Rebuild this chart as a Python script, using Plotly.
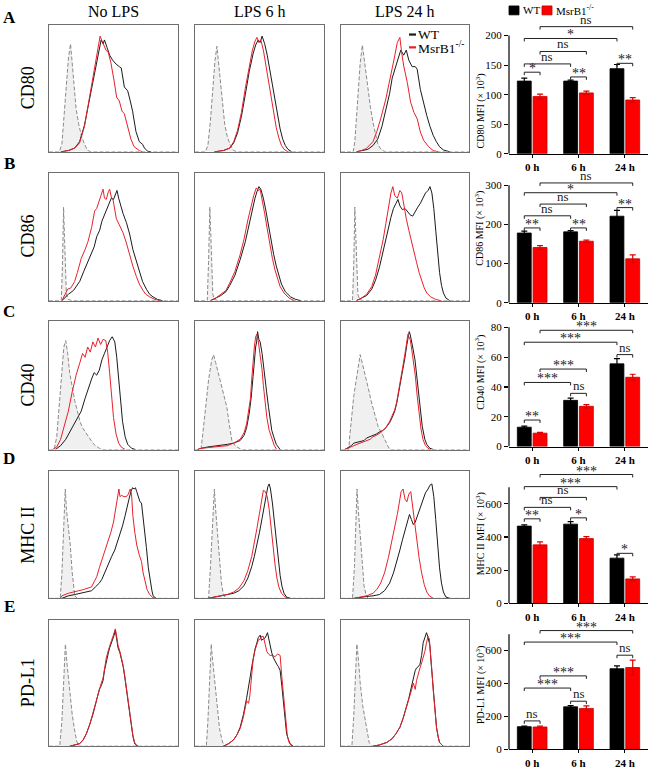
import plotly.graph_objects as go

W, H = 650, 769
FONT = "Liberation Serif, DejaVu Serif, serif"


def px(x):
    return x / W


def py(y):
    return 1 - y / H


# ---------------- data ----------------
marker_names = ["CD80", "CD86", "CD40", "MHC II", "PD-L1"]
panel_letters = ["A", "B", "C", "D", "E"]
conditions = ["No LPS", "LPS 6 h", "LPS 24 h"]
time_points = ["0 h", "6 h", "24 h"]
wt_name = "WT"
ko_name = "MsrB1<sup>-/-</sup>"

# MFI (x 10^3): mean and SEM per time point (0 h, 6 h, 24 h)
cd80_wt = [123, 123, 144]
cd80_wt_err = [5, 1.5, 7]
cd80_ko = [97, 103, 91]
cd80_ko_err = [4, 3, 4]

cd86_wt = [178, 181, 221]
cd86_wt_err = [5, 3, 15]
cd86_ko = [141, 157, 112]
cd86_ko_err = [5, 3, 10]

cd40_wt = [13, 31, 55.5]
cd40_wt_err = [0.7, 1.5, 3.5]
cd40_ko = [9, 27, 46.5]
cd40_ko_err = [0.5, 1.2, 2]

mhc2_wt = [465, 477, 272]
mhc2_wt_err = [8, 15, 20]
mhc2_ko = [352, 390, 147]
mhc2_ko_err = [18, 12, 12]

pdl1_wt = [137, 258, 490]
pdl1_wt_err = [4, 7, 17]
pdl1_ko = [135, 248, 497]
pdl1_ko_err = [5, 15, 45]

# significance brackets: (group from, time from, group to, time to, level, label)
cd80_sig = [("KO", 0, "KO", 2, 215, "ns"), ("WT", 0, "WT", 2, 195, "*"),
            ("KO", 0, "KO", 1, 173, "ns"), ("WT", 0, "WT", 1, 152, "ns"),
            ("WT", 0, "KO", 0, 138, "*"), ("WT", 1, "KO", 1, 130, "**"),
            ("WT", 2, "KO", 2, 153, "**")]
cd86_sig = [("KO", 0, "KO", 2, 306, "ns"), ("WT", 0, "WT", 2, 281, "*"),
            ("KO", 0, "KO", 1, 252, "ns"), ("WT", 0, "WT", 1, 222, "ns"),
            ("WT", 0, "KO", 0, 191, "**"), ("WT", 1, "KO", 1, 191, "**"),
            ("WT", 2, "KO", 2, 243, "**")]
cd40_sig = [("KO", 0, "KO", 2, 78, "***"), ("WT", 0, "WT", 2, 70, "***"),
            ("KO", 0, "KO", 1, 52, "***"), ("WT", 0, "WT", 1, 43, "***"),
            ("WT", 1, "KO", 1, 35.7, "ns"), ("WT", 2, "KO", 2, 61.7, "ns"),
            ("WT", 0, "KO", 0, 17.8, "**")]
mhc2_sig = [("KO", 0, "KO", 2, 776, "***"), ("WT", 0, "WT", 2, 703, "***"),
            ("KO", 0, "KO", 1, 638, "ns"), ("WT", 0, "WT", 1, 578, "ns"),
            ("WT", 0, "KO", 0, 509, "**"), ("WT", 1, "KO", 1, 515, "*"),
            ("WT", 2, "KO", 2, 301, "*")]
pdl1_sig = [("KO", 0, "KO", 2, 722, "***"), ("WT", 0, "WT", 2, 652, "***"),
            ("KO", 0, "KO", 1, 446, "***"), ("WT", 0, "WT", 1, 372, "***"),
            ("WT", 0, "KO", 0, 172, "ns"), ("WT", 1, "KO", 1, 292, "ns"),
            ("WT", 2, "KO", 2, 572, "ns")]

bar_tickvals = [[0, 50, 100, 150, 200], [0, 100, 200, 300], [0, 20, 40, 60, 80],
                [0, 200, 400, 600], [0, 200, 400, 600]]
bar_axis_top = [200, 300, 80, 700, 700]

# Flow histograms: (fluorescence, % of mode)
CD80_noLPS_iso = [(0, 0), (8, 0), (10, 6), (11.5, 25), (13.4, 52), (15, 73), (16.7, 85), (18, 68), (19.5, 50), (21, 34), (23, 22), (25, 13), (27.5, 6), (30, 1), (33, 0), (100, 0)]
CD80_noLPS_wt = [(9, 0), (15, 1), (20, 3), (23.7, 8), (27.5, 21), (30, 34), (34, 55), (36.5, 69), (37.8, 73), (40.4, 88), (42, 85), (43, 88), (45, 82), (47, 76), (49.4, 72), (52, 69), (54.5, 67), (56, 66), (58.4, 51), (61, 48), (63, 40), (64.8, 32), (67.4, 16), (70, 8), (72.5, 6), (74, 3), (76.4, 0.5), (79, 0)]
CD80_noLPS_ko = [(9.5, 0), (15, 1), (20, 3), (23.7, 7), (27.5, 20), (30, 35), (34, 57), (37.8, 82), (39.6, 91), (41.6, 86), (44.2, 80), (46, 78), (48, 70), (50.6, 55), (52.4, 43), (54.5, 40), (56.6, 32), (58.4, 30), (61, 20), (63.5, 10), (66, 4), (70, 1), (72.5, 0)]

CD80_6h_iso = [(0, 0), (8, 0), (10, 5), (12, 25), (14, 52), (15.5, 72), (17, 83), (18.5, 68), (20, 50), (21.5, 34), (23, 22), (25, 12), (27.5, 5), (30, 1), (33, 0), (100, 0)]
CD80_6h_wt = [(15, 0), (22, 1), (27, 3), (30, 7), (33, 15), (36, 28), (39, 45), (42, 63), (45, 77), (47, 84), (49, 88), (50.5, 86), (52, 91), (54, 85), (56, 76), (58, 64), (60, 52), (62, 40), (64, 28), (66, 18), (68, 10), (70, 5), (72, 2), (75, 0)]
CD80_6h_ko = [(15, 0), (22, 1), (27, 3), (30, 8), (33, 17), (36, 31), (39, 50), (42, 68), (44.5, 80), (46.5, 87), (48, 90), (49.5, 86), (51, 88), (53, 80), (55, 68), (57, 55), (59, 42), (61, 30), (63, 19), (65, 11), (67, 5), (69, 2), (72, 0)]

CD80_24h_iso = [(0, 0), (9.5, 0), (10.8, 8), (12, 28), (13.3, 49), (15, 70), (16.7, 84), (18.5, 70), (21, 49), (23, 35), (25, 23), (27, 13), (28.7, 6.5), (30.5, 3), (32.6, 1), (35, 0), (100, 0)]
CD80_24h_wt = [(12, 0), (17, 1), (21, 2), (25, 5), (28.7, 10), (32, 20), (35, 33), (38, 46), (40, 58), (43, 68), (45.6, 78), (46.7, 80), (49, 76), (51, 80), (53, 72), (55.6, 67), (58, 67), (59.5, 65), (62, 49), (64.5, 38), (67, 28.6), (69.5, 20), (72, 13), (74.5, 8), (77, 4), (80, 1.5), (82.5, 0.5), (85, 0)]
CD80_24h_ko = [(12, 0), (16, 1), (19.7, 2.6), (25, 8), (28, 16), (31, 26), (35, 41.5), (39, 60), (41.5, 73), (44, 86), (46, 90), (47.4, 78), (49, 67.5), (51.8, 54.5), (54.4, 39), (57, 31), (59.5, 26), (62, 15.6), (64.6, 9), (68.5, 4), (72, 1), (76, 0)]

CD86_noLPS_iso = [(0, 0), (9.5, 0), (10.5, 30), (11.3, 73), (12, 50), (12.8, 20), (13.5, 5), (15, 1), (18, 0), (100, 0)]
CD86_noLPS_wt = [(10, 0), (12, 2), (15, 5), (19, 8), (23.8, 15), (27, 23), (31.5, 33), (35, 42), (37, 50), (39.3, 55), (41, 62), (44.4, 70), (46, 75), (48.3, 80), (50, 79), (52.7, 86), (54, 80), (56, 72), (57.4, 68), (60, 61), (62.5, 52), (65, 40), (67.5, 31), (70, 22), (72.5, 15), (75.5, 9), (78, 5), (80.6, 3), (84, 1), (88, 0)]
CD86_noLPS_ko = [(10, 0), (11, 2), (12.5, 6), (14.5, 9), (17, 10), (19.9, 15), (22, 22), (25, 33), (28, 40), (30.2, 46), (33, 57), (35.4, 70), (37, 72), (39.3, 79), (41.9, 87), (43, 80), (44.4, 79), (46, 85), (47, 87), (48.5, 80), (49.6, 79), (52.2, 64), (55, 58), (57.4, 53), (60, 45), (62.5, 35), (65, 27), (67.7, 19), (70, 13), (72.9, 8), (75, 5), (78, 3), (82, 1), (86, 0)]

CD86_6h_iso = [(0, 0), (9.5, 0), (10.5, 30), (11.5, 73), (12.3, 50), (13, 20), (13.8, 5), (15, 1), (18, 0), (100, 0)]
CD86_6h_wt = [(12, 0), (16, 2), (20, 4), (24, 7), (27, 12), (31, 20), (35, 32), (39, 46), (42, 60), (44, 70), (46.5, 80), (48, 85), (49.5, 89), (51, 87), (53, 80), (55, 70), (57, 58), (59, 47), (61, 36), (63, 27), (65, 19), (67, 13), (70, 7), (74, 3), (78, 1), (82, 0)]
CD86_6h_ko = [(12, 0), (16, 2), (20, 5), (24, 8), (27, 14), (31, 23), (35, 36), (38, 48), (41, 63), (43, 72), (45.5, 82), (47.5, 88), (49, 86), (50.5, 87), (52, 80), (54, 68), (56, 56), (58, 44), (60, 33), (62, 24), (64, 17), (66, 11), (69, 6), (73, 2), (77, 0)]

CD86_24h_iso = [(0, 0), (9, 0), (10, 30), (10.8, 73), (11.6, 50), (12.4, 20), (13.2, 5), (14.5, 1), (17, 0), (100, 0)]
CD86_24h_wt = [(12, 0), (16, 2), (20, 4), (24, 9), (27, 16), (30, 26), (33, 38), (36, 52), (39, 65), (41, 72), (43, 76), (44.5, 79), (46, 74), (48, 71), (50, 72), (52, 69), (54, 67), (56, 66), (58, 70), (60, 73), (62, 76), (64, 80), (66, 84), (68, 86), (69.5, 89), (71, 84), (72.5, 72), (74, 55), (75.5, 38), (77, 22), (78.5, 12), (80, 6), (82, 2), (85, 0)]
CD86_24h_ko = [(12, 0), (16, 2), (20, 5), (24, 11), (27, 20), (30, 33), (33, 48), (35, 60), (37, 72), (39, 84), (40.5, 89), (42, 82), (44, 80), (46, 86), (47.5, 84), (49, 75), (51, 64), (53, 55), (55, 46), (57, 38), (59, 30), (61, 22), (63, 15), (65, 10), (67, 6), (70, 3), (74, 1), (78, 0)]

CD40_noLPS_iso = [(0, 0), (4, 0), (6, 10), (8, 35), (10, 65), (11.5, 80), (13, 85), (14.5, 75), (16, 60), (18, 48), (20, 38), (22, 30), (24, 22), (26, 17), (28, 14), (30, 10), (32, 8), (34, 5), (36, 3), (39, 1), (42, 0), (100, 0)]
CD40_noLPS_wt = [(5, 0), (9, 3), (13, 8), (17, 15), (21, 22), (25, 30), (28, 40), (31, 50), (33, 55), (35, 60), (37, 58), (39, 62), (41, 70), (43, 75), (45, 80), (47, 85), (49, 88), (51, 84), (52.5, 72), (54, 55), (55.5, 38), (57, 22), (59, 10), (61, 4), (64, 1), (67, 0)]
CD40_noLPS_ko = [(3, 0), (6, 2), (9, 8), (12, 18), (15, 30), (18, 45), (21, 58), (24, 68), (26, 75), (28, 72), (30, 80), (32, 76), (34, 84), (36, 80), (38, 87), (40, 82), (42, 86), (44, 85), (45.5, 76), (47, 60), (48.5, 40), (50, 25), (52, 12), (54, 5), (56, 2), (59, 0)]

CD40_6h_iso = [(0, 0), (4.6, 0), (6, 12), (8, 33), (10.6, 55), (13, 70), (14.4, 74), (16, 68), (18, 60), (19.6, 54), (22, 43), (24.7, 33), (26.5, 20), (28.6, 7), (31, 3), (33, 2), (36, 0), (100, 0)]
CD40_6h_wt = [(2, 0), (5, 1), (10, 2), (15, 2.5), (20, 3), (25, 4), (30, 5), (35, 7), (38, 11), (40, 17), (42, 28), (43.5, 40), (45, 57), (46, 70), (47, 80), (47.8, 84), (48.5, 92), (49.5, 86), (50.5, 84), (52, 75), (54, 60), (55.5, 45), (57, 33), (58, 25), (59.5, 15), (61, 10), (63, 4), (66, 0)]
CD40_6h_ko = [(2, 0), (5, 1), (10, 1.5), (15, 2), (20, 3), (25, 3), (30, 5), (35, 8), (38, 13), (40, 20), (41.5, 30), (43, 40), (44, 55), (45, 70), (46, 80), (47, 88), (48, 90), (49, 85), (50.5, 75), (52, 62), (53, 50), (54.5, 35), (55.7, 25), (57.5, 15), (59.5, 8), (61.5, 3), (63.4, 0)]

CD40_24h_iso = [(0, 0), (6, 0), (7, 12), (8.5, 30), (10, 42), (12, 55), (13.5, 66), (15, 74), (16.5, 68), (18, 62), (20, 55), (22, 45), (23.5, 38), (25, 32), (27, 25), (29, 18), (30.6, 15), (33, 10), (35.8, 5), (38, 0), (100, 0)]
CD40_24h_wt = [(3, 0), (5, 1), (8, 3), (10, 5), (12.4, 5.5), (15, 6), (18, 7), (20, 9), (22.8, 10), (25, 11), (27.5, 12), (30.6, 14), (33, 15), (35, 17), (38, 21), (40, 25), (42, 30), (43.5, 36), (45, 44), (46.5, 52), (47.4, 57), (48.5, 64), (50, 72), (51.5, 82), (52.6, 88), (53.3, 92), (54, 90), (55, 86), (56, 80), (57.8, 70), (59, 58), (60.4, 45), (62, 30), (63.5, 18), (65.5, 8), (67, 4), (69.4, 1), (72, 0)]
CD40_24h_ko = [(3, 0), (5, 1), (8, 2), (10, 3), (12.4, 4), (15, 5), (18, 6), (20, 7), (22.8, 8), (25, 10), (27.5, 11), (30.6, 13), (33, 15), (35, 17), (38, 22), (40, 26), (42, 31), (43.5, 37), (45, 45), (46.5, 54), (47.4, 58), (48.5, 66), (50, 75), (51.5, 85), (52.3, 90), (53, 88), (54, 86), (55, 80), (56.5, 70), (58, 58), (59.5, 42), (61, 28), (62.5, 16), (64, 8), (66, 3), (68, 1), (70, 0)]

MHC2_noLPS_iso = [(0, 0), (8.7, 0), (10, 20), (11, 50), (12.6, 86), (13.5, 70), (15, 55), (16.5, 42), (18, 20), (19, 8), (20, 2), (22, 0), (100, 0)]
MHC2_noLPS_wt = [(10, 0), (15, 2), (20, 3), (25, 4), (30, 5), (33, 6), (36, 9), (39, 12), (41, 15), (44, 22), (46, 28), (48.6, 33), (51, 38), (53, 44), (55, 50), (57, 57), (59, 65), (60, 70), (62, 78), (63.5, 84), (64.8, 87), (66, 86), (67, 87), (68, 84), (69, 80), (70.5, 76), (71.7, 75), (73, 64), (74.3, 52), (75.5, 40), (77, 24), (78.5, 12), (79.8, 6), (80.7, 2), (83, 0)]
MHC2_noLPS_ko = [(8.7, 0), (10, 2), (15, 4), (20, 5), (23, 6), (27, 7), (30, 8), (33, 9), (35, 13), (37, 17), (39, 24), (40.9, 30), (43, 37), (46, 45), (48, 52), (50, 60), (51.2, 68), (52.4, 75), (53.5, 82), (54.2, 86), (55, 80), (56.3, 81), (58, 80), (60, 80), (61.5, 82), (63, 86), (64, 82), (65, 65), (66.5, 52), (68, 42), (70, 34), (71.7, 29), (73, 20), (74.3, 13), (76, 7), (78, 3), (80.7, 0.5), (83, 0)]

MHC2_6h_iso = [(0, 0), (10.5, 0), (12, 25), (13.5, 60), (15, 86), (16, 70), (17.5, 50), (19, 30), (20.5, 12), (22, 3), (24, 0), (100, 0)]
MHC2_6h_wt = [(10, 0), (15, 1), (20, 2), (25, 3), (30, 4), (34, 6), (38, 10), (41, 16), (44, 25), (46, 33), (48, 42), (50, 52), (52, 63), (54, 74), (55.5, 83), (56.5, 88), (57.5, 90), (58.5, 86), (60, 75), (61.5, 60), (63, 44), (64.5, 30), (66, 18), (67.5, 9), (69, 4), (71, 1), (74, 0)]
MHC2_6h_ko = [(10, 0), (15, 1), (20, 2), (25, 3), (30, 5), (34, 8), (38, 14), (41, 22), (44, 33), (46, 43), (48, 55), (50, 67), (51.5, 77), (53, 85), (54.5, 84), (56, 80), (57.5, 70), (59, 55), (60.5, 40), (62, 27), (63.5, 16), (65, 9), (67, 4), (70, 1), (73, 0)]

MHC2_24h_iso = [(0, 0), (9, 0), (10.5, 25), (11.5, 60), (12.5, 86), (13.5, 70), (15, 48), (16.5, 28), (18, 10), (19.5, 3), (21, 0), (100, 0)]
MHC2_24h_wt = [(10, 0), (15, 1), (20, 1.5), (25, 2), (30, 3), (34, 6), (38, 12), (41, 20), (44, 30), (46, 38), (48, 46), (50, 54), (52, 62), (53.5, 66), (55, 62), (56.5, 58), (58, 60), (60, 66), (62, 72), (64, 78), (66, 83), (68, 86), (69.5, 89), (71, 90), (72.5, 80), (74, 62), (75.5, 42), (77, 24), (78.5, 12), (80, 5), (82, 1), (85, 0)]
MHC2_24h_ko = [(10, 0), (15, 1), (20, 2), (25, 4), (28, 7), (31, 12), (34, 20), (37, 32), (40, 46), (42, 56), (44, 66), (45.5, 75), (47, 84), (48.5, 86), (50, 78), (51.5, 76), (53, 82), (54.5, 84), (56, 72), (57.5, 58), (59, 45), (61, 32), (63, 20), (65, 11), (67, 5), (69, 2), (72, 0)]

PDL1_noLPS_iso = [(0, 0), (8.3, 0), (10, 20), (11.5, 55), (12.7, 81), (14, 65), (16, 45), (18, 25), (20, 12), (21.5, 4), (23, 0), (100, 0)]
PDL1_noLPS_wt = [(16, 0), (20, 1), (23.8, 2), (26.5, 5), (29, 10), (31.5, 17), (34, 25), (36.5, 35), (39, 45), (40.5, 48), (41.9, 52), (43, 60), (44.4, 68), (46, 74), (47, 78), (48.5, 82), (49.6, 85), (50.5, 88), (51.4, 92), (52.3, 86), (53.5, 78), (55, 74), (56, 70), (57.5, 63), (58.7, 55), (60, 45), (61.2, 35), (62.5, 25), (63.8, 15), (65, 8), (66.4, 2), (69, 0)]
PDL1_noLPS_ko = [(16, 0), (20, 1), (23.8, 2), (26.5, 5), (29, 10), (31.5, 17), (34, 26), (36.5, 36), (39, 46), (40.5, 50), (41.9, 54), (43, 62), (44.4, 70), (46, 76), (47, 80), (48.5, 84), (49.6, 87), (50.5, 90), (51.4, 93), (52.3, 88), (53.5, 80), (55, 75), (56, 71), (57.5, 64), (58.7, 56), (60, 46), (61.2, 36), (62.5, 26), (63.8, 16), (65, 9), (66.4, 3), (68, 0)]

PDL1_6h_iso = [(0, 0), (8.8, 0), (10, 20), (10.8, 40), (12, 70), (12.6, 81), (13.5, 70), (14.7, 58), (16, 42), (17, 30), (19, 14), (20.9, 5), (22.5, 0), (100, 0)]
PDL1_6h_wt = [(22, 0), (26, 2), (29.9, 5), (32.5, 9), (35, 15), (37.5, 25), (40, 38), (41.5, 46), (42.8, 55), (44, 63), (45, 70), (46.5, 77), (48, 82), (49, 86), (50.5, 88), (51.5, 84), (53, 85), (54.5, 86), (56.2, 90), (57.2, 85), (58.2, 80), (59.5, 74), (60.8, 70), (62, 67), (63.4, 65), (64.7, 63), (66, 60), (67.3, 48), (68.6, 35), (70, 20), (71, 10), (72.5, 5), (73.7, 2), (76, 0)]
PDL1_6h_ko = [(22, 0), (26, 2), (29.9, 5), (32.5, 9), (35, 14), (37.5, 23), (40, 36), (41.5, 34), (42.5, 40), (44, 60), (45, 68), (46.5, 76), (48, 80), (49, 84), (50.5, 85), (51.5, 87), (53, 87), (54.5, 80), (55.7, 75), (57, 73), (58.2, 72), (60, 72), (62, 71), (64, 73), (66, 72), (67.3, 55), (68.6, 40), (70, 22), (71.6, 8), (73, 3), (75, 0)]

PDL1_24h_iso = [(0, 0), (8.5, 0), (10, 25), (11.5, 60), (12.4, 81), (13.5, 70), (15, 50), (17, 32), (19, 20), (20.5, 10), (22, 3), (24, 0), (100, 0)]
PDL1_24h_wt = [(25, 0), (30, 1), (35.8, 3), (40, 6), (43, 10), (46, 15), (48.5, 22), (51, 30), (53, 38), (55, 47), (56.5, 55), (58, 60), (59, 62), (60.3, 63), (61.7, 65), (63, 72), (64.2, 82), (65.5, 87), (66.8, 90), (67.8, 87), (68.6, 84), (69.4, 80), (70.5, 65), (72, 45), (73.3, 28), (74.6, 15), (76, 7), (77, 3), (79.8, 0)]
PDL1_24h_ko = [(25, 0), (30, 1), (35.8, 3), (40, 6), (43, 10), (46, 15), (48.5, 22), (51, 30), (53, 37), (55, 44), (56.5, 50), (58, 45), (59, 52), (60.3, 58), (61.7, 62), (63, 66), (64.2, 70), (65.5, 75), (66.8, 82), (68, 87), (69, 85), (70, 75), (71, 60), (72, 45), (73.3, 28), (74.6, 15), (76, 7), (77, 3), (79.8, 0)]

hist_panels = [
    [(CD80_noLPS_iso, CD80_noLPS_wt, CD80_noLPS_ko), (CD80_6h_iso, CD80_6h_wt, CD80_6h_ko), (CD80_24h_iso, CD80_24h_wt, CD80_24h_ko)],
    [(CD86_noLPS_iso, CD86_noLPS_wt, CD86_noLPS_ko), (CD86_6h_iso, CD86_6h_wt, CD86_6h_ko), (CD86_24h_iso, CD86_24h_wt, CD86_24h_ko)],
    [(CD40_noLPS_iso, CD40_noLPS_wt, CD40_noLPS_ko), (CD40_6h_iso, CD40_6h_wt, CD40_6h_ko), (CD40_24h_iso, CD40_24h_wt, CD40_24h_ko)],
    [(MHC2_noLPS_iso, MHC2_noLPS_wt, MHC2_noLPS_ko), (MHC2_6h_iso, MHC2_6h_wt, MHC2_6h_ko), (MHC2_24h_iso, MHC2_24h_wt, MHC2_24h_ko)],
    [(PDL1_noLPS_iso, PDL1_noLPS_wt, PDL1_noLPS_ko), (PDL1_6h_iso, PDL1_6h_wt, PDL1_6h_ko), (PDL1_24h_iso, PDL1_24h_wt, PDL1_24h_ko)],
]
bar_data = [
    (cd80_wt, cd80_wt_err, cd80_ko, cd80_ko_err, cd80_sig),
    (cd86_wt, cd86_wt_err, cd86_ko, cd86_ko_err, cd86_sig),
    (cd40_wt, cd40_wt_err, cd40_ko, cd40_ko_err, cd40_sig),
    (mhc2_wt, mhc2_wt_err, mhc2_ko, mhc2_ko_err, mhc2_sig),
    (pdl1_wt, pdl1_wt_err, pdl1_ko, pdl1_ko_err, pdl1_sig),
]

# ---------------- layout geometry (pixels) ----------------
hist_cols = [(49, 178), (195, 324), (341, 469)]
hist_rows = [(22, 151), (172, 302), (323, 453), (475, 604), (626, 754)]
bar_cols = (509, 648)
bar_rows = [(18, 153), (177, 304), (326, 450), (476, 609), (634.5, 757)]
bar_range_top = [225, 320, 82, 790, 735]
ytitle_centers = [110, 229, 375, 539, 692]
letter_y = [15, 163, 313, 462, 612]

BAR_W = 0.30
WT_OFF = -0.32
KO_OFF = 0.02

WT_LINE = "#1a1a1a"
KO_LINE = "#e8202a"
ISO_LINE = "#8a8a8a"
BOX = "#6e6e6e"

fig = go.Figure()
layout = dict(
    width=W, height=H, margin=dict(l=0, r=0, t=0, b=0),
    paper_bgcolor="white", plot_bgcolor="white", showlegend=False,
    barmode="overlay", font=dict(family=FONT, color="black"),
)
shapes = []
annotations = []

# ---- histogram panels ----
k = 0
for r, row in enumerate(hist_panels):
    for c, (iso, wt, ko) in enumerate(row):
        k += 1
        xa, ya = f"x{k}", f"y{k}"
        layout[f"xaxis{k}"] = dict(
            domain=[px(hist_cols[c][0]), px(hist_cols[c][1])], anchor=ya,
            range=[0, 100], showgrid=False, zeroline=False, showticklabels=False,
            ticks="", showline=True, mirror=True, linecolor=BOX, linewidth=1)
        layout[f"yaxis{k}"] = dict(
            domain=[py(hist_rows[r][1]), py(hist_rows[r][0])], anchor=xa,
            range=[0, 100], showgrid=False, zeroline=False, showticklabels=False,
            ticks="", showline=True, mirror=True, linecolor=BOX, linewidth=1)
        fig.add_trace(go.Scatter(
            x=[p[0] for p in iso], y=[p[1] for p in iso], xaxis=xa, yaxis=ya,
            mode="lines", fill="tozeroy", fillcolor="rgba(200,200,200,0.28)",
            line=dict(color=ISO_LINE, width=1, dash="4px,2px"), hoverinfo="skip"))
        fig.add_trace(go.Scatter(
            x=[p[0] for p in wt], y=[p[1] for p in wt], xaxis=xa, yaxis=ya,
            mode="lines", line=dict(color=WT_LINE, width=1), name=wt_name,
            hoverinfo="skip"))
        fig.add_trace(go.Scatter(
            x=[p[0] for p in ko], y=[p[1] for p in ko], xaxis=xa, yaxis=ya,
            mode="lines", line=dict(color=KO_LINE, width=1), name=ko_name,
            hoverinfo="skip"))

# ---- bar charts ----
for i, (wt, wte, ko, koe, sig) in enumerate(bar_data):
    k += 1
    xa, ya = f"x{k}", f"y{k}"
    top_px, bot_px = bar_rows[i]
    layout[f"xaxis{k}"] = dict(
        domain=[px(bar_cols[0]), px(bar_cols[1])], anchor=ya, range=[-0.5, 2.5],
        showgrid=False, zeroline=False, showline=True, linecolor="black", linewidth=1.2,
        ticks="outside", ticklen=3, tickcolor="black", tickvals=[0, 1, 2],
        ticktext=[f"<b>{t}</b>" for t in time_points],
        tickfont=dict(size=11, family=FONT, color="black"))
    layout[f"yaxis{k}"] = dict(
        domain=[py(bot_px), py(top_px)], anchor=xa, range=[0, bar_range_top[i]],
        showgrid=False, zeroline=False, showline=False, ticks="outside", ticklen=4,
        tickcolor="black", tickwidth=1.2, tickvals=bar_tickvals[i],
        tickfont=dict(size=11, family=FONT, color="black"))
    fig.add_trace(go.Bar(
        x=[0, 1, 2], y=wt, width=BAR_W, offset=WT_OFF, xaxis=xa, yaxis=ya,
        marker=dict(color="black", line=dict(color="black", width=0.8)), name=wt_name,
        error_y=dict(type="data", array=wte, color="black", thickness=1.2, width=3),
        hoverinfo="skip"))
    fig.add_trace(go.Bar(
        x=[0, 1, 2], y=ko, width=BAR_W, offset=KO_OFF, xaxis=xa, yaxis=ya,
        marker=dict(color="#ff0000", line=dict(color="#c00000", width=0.8)), name=ko_name,
        error_y=dict(type="data", array=koe, color="#e00000", thickness=1.2, width=3),
        hoverinfo="skip"))
    # y axis line (up to the last labelled extent)
    shapes.append(dict(type="line", xref="paper", yref=ya, x0=px(bar_cols[0]),
                       x1=px(bar_cols[0]), y0=0, y1=bar_axis_top[i],
                       line=dict(color="black", width=1.2)))
    # significance brackets
    unit_px = (bot_px - top_px) / bar_range_top[i]
    drop = 3.0 / unit_px
    for g1, t1, g2, t2, lvl, lab in sig:
        xa1 = t1 + (WT_OFF if g1 == "WT" else KO_OFF) + BAR_W / 2
        xa2 = t2 + (WT_OFF if g2 == "WT" else KO_OFF) + BAR_W / 2
        shapes.append(dict(
            type="path", xref=xa, yref=ya,
            path=f"M {xa1},{lvl - drop} L {xa1},{lvl} L {xa2},{lvl} L {xa2},{lvl - drop}",
            line=dict(color="#222", width=1)))
        is_star = lab.startswith("*")
        annotations.append(dict(
            xref=xa, yref=ya, x=(xa1 + xa2) / 2, y=lvl, text=lab, showarrow=False,
            xanchor="center", yanchor="bottom", yshift=-6 if is_star else -2,
            font=dict(size=14 if is_star else 13, family=FONT, color="#222")))
    # y axis title
    annotations.append(dict(
        xref="paper", yref="paper", x=px(480), y=py(ytitle_centers[i]),
        text=f"{marker_names[i]} MFI (× 10<sup>3</sup>)", textangle=-90,
        showarrow=False, xanchor="center", yanchor="middle",
        font=dict(size=10, family=FONT, color="black")))

# ---- texts: column titles, row labels, letters ----
for c, name in enumerate(conditions):
    annotations.append(dict(
        xref="paper", yref="paper", x=px((hist_cols[c][0] + hist_cols[c][1]) / 2),
        y=py(9), text=name, showarrow=False, xanchor="center", yanchor="middle",
        font=dict(size=16, family=FONT, color="black")))
for r, name in enumerate(marker_names):
    annotations.append(dict(
        xref="paper", yref="paper", x=px(28),
        y=py((hist_rows[r][0] + hist_rows[r][1]) / 2), text=name, textangle=-90,
        showarrow=False, xanchor="center", yanchor="middle",
        font=dict(size=18, family=FONT, color="black")))
    annotations.append(dict(
        xref="paper", yref="paper", x=px(9), y=py(letter_y[r]),
        text=f"<b>{panel_letters[r]}</b>", showarrow=False,
        xanchor="center", yanchor="middle",
        font=dict(size=17, family=FONT, color="black")))

# ---- legend inside CD80 / LPS 24 h panel ----
for yy, col, lab in [(32, WT_LINE, wt_name), (45, KO_LINE, ko_name)]:
    shapes.append(dict(type="line", xref="paper", yref="paper", x0=px(409), x1=px(416),
                       y0=py(yy), y1=py(yy), line=dict(color=col, width=2.2)))
    annotations.append(dict(
        xref="paper", yref="paper", x=px(416), y=py(yy), text=lab, showarrow=False,
        xanchor="left", yanchor="middle", font=dict(size=13.5, family=FONT, color="black")))

# ---- legend above bar charts ----
for x0, col, edge, lab in [(509, "black", "black", wt_name), (542, "#ff0000", "#c00000", ko_name)]:
    shapes.append(dict(type="rect", xref="paper", yref="paper", x0=px(x0), x1=px(x0 + 10),
                       y0=py(12), y1=py(3), fillcolor=col, line=dict(color=edge, width=0.8)))
    annotations.append(dict(
        xref="paper", yref="paper", x=px(x0 + 12), y=py(7.5), text=lab, showarrow=False,
        xanchor="left", yanchor="middle", font=dict(size=11, family=FONT, color="black")))

layout["shapes"] = shapes
layout["annotations"] = annotations
fig.update_layout(**layout)
fig.write_html(
    "out.html",
    config={"displayModeBar": False, "staticPlot": True},
    post_script="document.body.style.margin='0';document.body.style.padding='0';",
)
